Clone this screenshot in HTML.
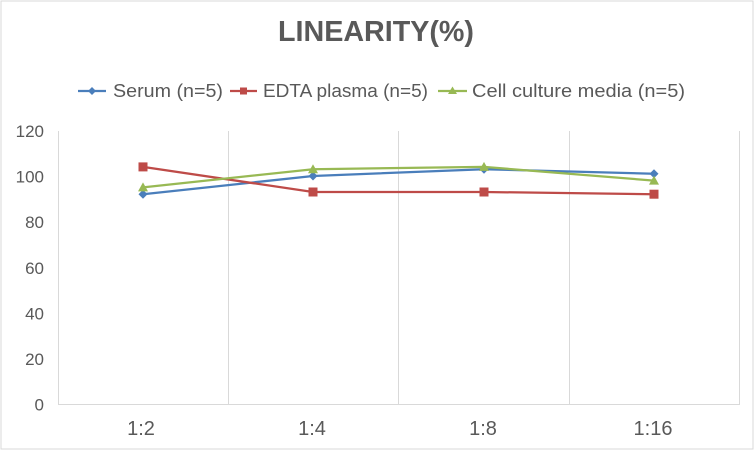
<!DOCTYPE html>
<html>
<head>
<meta charset="utf-8">
<style>
html,body{margin:0;padding:0;background:#fff;}
svg{display:block;}
text{font-family:"Liberation Sans",sans-serif;fill:#595959;}
</style>
</head>
<body>
<svg width="755" height="451" viewBox="0 0 755 451" xmlns="http://www.w3.org/2000/svg">
<rect x="0" y="0" width="755" height="451" fill="#fff"/>
<rect x="1" y="1" width="752" height="448" fill="none" stroke="#d9d9d9" stroke-width="1"/>
<!-- title -->
<text x="376" y="41" font-size="29" font-weight="bold" text-anchor="middle" textLength="196" lengthAdjust="spacingAndGlyphs">LINEARITY(%)</text>
<!-- legend -->
<g stroke-width="2.25">
<line x1="78" y1="91" x2="106" y2="91" stroke="#4a7ebb"/>
<polygon points="92,87 96,91 92,95 88,91" fill="#4a7ebb"/>
<line x1="230" y1="91" x2="257" y2="91" stroke="#be4b48"/>
<rect x="240" y="87.5" width="7" height="7" fill="#be4b48" stroke="none"/>
<line x1="438" y1="91" x2="467" y2="91" stroke="#98b954"/>
<polygon points="452.5,86.5 457,94 448,94" fill="#98b954"/>
</g>
<text x="113" y="97" font-size="18" textLength="110" lengthAdjust="spacingAndGlyphs">Serum (n=5)</text>
<text x="263" y="97" font-size="18" textLength="165" lengthAdjust="spacingAndGlyphs">EDTA plasma (n=5)</text>
<text x="472" y="97" font-size="18" textLength="213" lengthAdjust="spacingAndGlyphs">Cell culture media (n=5)</text>
<!-- grid -->
<g stroke="#d9d9d9" stroke-width="1">
<line x1="58.5" y1="131" x2="58.5" y2="404"/>
<line x1="228.5" y1="131" x2="228.5" y2="404"/>
<line x1="398.5" y1="131" x2="398.5" y2="404"/>
<line x1="569.5" y1="131" x2="569.5" y2="404"/>
<line x1="739.5" y1="131" x2="739.5" y2="404"/>
<line x1="58" y1="404.5" x2="740" y2="404.5"/>
</g>
<!-- y labels -->
<g font-size="17" text-anchor="end">
<text x="44" y="137">120</text>
<text x="44" y="182.5">100</text>
<text x="44" y="228">80</text>
<text x="44" y="274">60</text>
<text x="44" y="319.5">40</text>
<text x="44" y="365">20</text>
<text x="44" y="410.5">0</text>
</g>
<!-- x labels -->
<g font-size="20" text-anchor="middle">
<text x="141" y="435">1:2</text>
<text x="312" y="435">1:4</text>
<text x="483" y="435">1:8</text>
<text x="653" y="435">1:16</text>
</g>
<!-- series -->
<polyline fill="none" stroke="#4a7ebb" stroke-width="2.25" points="143,194.2 313,176 484,169.2 654,173.7"/>
<polyline fill="none" stroke="#be4b48" stroke-width="2.25" points="143,166.9 313,192 484,192 654,194.2"/>
<polyline fill="none" stroke="#98b954" stroke-width="2.25" points="143,187.4 313,169.2 484,166.9 654,180.6"/>
<g fill="#4a7ebb">
<polygon points="143,189.7 147.5,194.2 143,198.7 138.5,194.2"/>
<polygon points="313,171.5 317.5,176 313,180.5 308.5,176"/>
<polygon points="484,164.7 488.5,169.2 484,173.7 479.5,169.2"/>
<polygon points="654,169.2 658.5,173.7 654,178.2 649.5,173.7"/>
</g>
<g fill="#be4b48">
<rect x="138.5" y="162.4" width="9" height="9"/>
<rect x="308.5" y="187.5" width="9" height="9"/>
<rect x="479.5" y="187.5" width="9" height="9"/>
<rect x="649.5" y="189.7" width="9" height="9"/>
</g>
<g fill="#98b954">
<polygon points="143,182.4 148,191.4 138,191.4"/>
<polygon points="313,164.2 318,173.2 308,173.2"/>
<polygon points="484,161.9 489,170.9 479,170.9"/>
<polygon points="654,175.6 659,184.6 649,184.6"/>
</g>
</svg>
</body>
</html>
